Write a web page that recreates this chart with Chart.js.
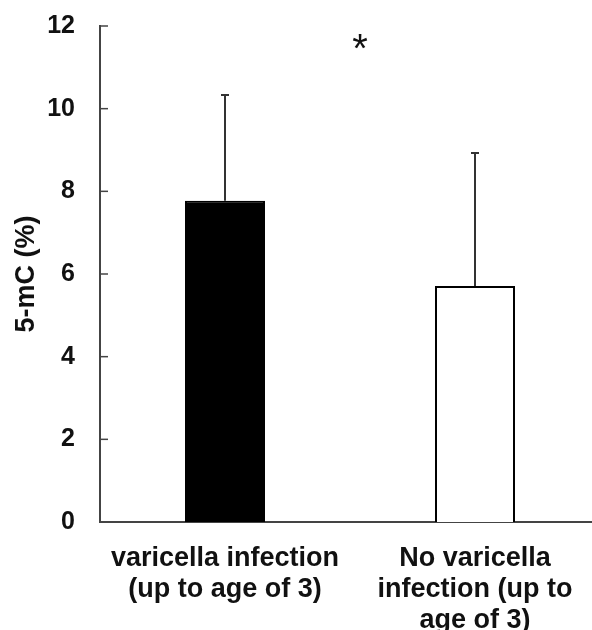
<!DOCTYPE html>
<html>
<head>
<meta charset="utf-8">
<script src="https://cdn.jsdelivr.net/npm/chart.js@4.4.1/dist/chart.umd.min.js"></script>
<style>
  html, body { margin: 0; padding: 0; background: #fff; overflow: hidden; }
  #wrap { width: 592px; height: 630px; overflow: hidden; }
</style>
</head>
<body>
<div id="wrap"><canvas id="myChart" width="600" height="640"></canvas></div>
<script>
const categorias = [
    ['varicella infection', '(up to age of 3)'],
    ['No varicella', 'infection (up to', 'age of 3)']
];
const medias = [7.77, 5.71];
const desvios = [2.56, 3.22];
const ticksY = [0, 2, 4, 6, 8, 10, 12];
const corBarras = ['#000000', '#ffffff'];

const fonte = 'Arial, "Liberation Sans", sans-serif';
const corEixo = '#444444';

// barras de erro (so para cima) e o asterisco
const extras = {
    id: 'extras',
    afterDatasetsDraw(chart) {
        const ctx = chart.ctx;
        const y = chart.scales.y;
        const x = chart.scales.x;
        const meta = chart.getDatasetMeta(0);
        ctx.save();
        ctx.strokeStyle = '#333333';
        ctx.lineWidth = 2;
        meta.data.forEach((barra, i) => {
            const topo = y.getPixelForValue(medias[i]);
            const fim = y.getPixelForValue(medias[i] + desvios[i]);
            ctx.beginPath();
            ctx.moveTo(barra.x, topo);
            ctx.lineTo(barra.x, fim);
            ctx.moveTo(barra.x - 4, fim);
            ctx.lineTo(barra.x + 4, fim);
            ctx.stroke();
        });

        // marcas do eixo y para dentro
        ctx.strokeStyle = corEixo;
        ctx.lineWidth = 1.5;
        ticksY.forEach(v => {
            const py = y.getPixelForValue(v);
            if (v === 0) return;
            ctx.beginPath();
            ctx.moveTo(chart.chartArea.left, py);
            ctx.lineTo(chart.chartArea.left + 8, py);
            ctx.stroke();
        });

        // asterisco de significancia
        ctx.fillStyle = '#111';
        ctx.font = '40px ' + fonte;
        ctx.textAlign = 'center';
        ctx.textBaseline = 'middle';
        const px = (x.getPixelForValue(0) + x.getPixelForValue(1)) / 2 + 10;
        ctx.fillText('*', px, y.getPixelForValue(11.4));
        ctx.restore();
    }
};

const ctx = document.getElementById('myChart');

new Chart(ctx, {
    type: 'bar',
    data: {
        labels: categorias,
        datasets: [{
            label: '5-mC',
            data: medias,
            backgroundColor: corBarras,
            borderColor: '#000000',
            borderWidth: 2,
            barPercentage: 0.32,
            categoryPercentage: 1.0
        }]
    },
    options: {
        responsive: false,
        animation: false,
        devicePixelRatio: 1,
        layout: { padding: { top: 26, right: 0, left: 0, bottom: 0 } },
        plugins: {
            legend: { display: false },
            tooltip: { enabled: false }
        },
        scales: {
            x: {
                grid: { display: false, drawTicks: false },
                border: { display: true, color: corEixo, width: 2 },
                ticks: {
                    color: '#111',
                    padding: 21,
                    maxRotation: 0,
                    autoSkip: false,
                    font: { family: fonte, size: 27, weight: 'bold', lineHeight: 1.15 }
                },
                afterFit(scale) {
                    scale.height = 118;
                    scale.paddingLeft = 0;
                    scale.paddingRight = 0;
                }
            },
            y: {
                min: 0,
                max: 12,
                afterBuildTicks(scale) { scale.ticks = ticksY.map(v => ({ value: v })); },
                grid: { display: false, drawTicks: false },
                border: { display: true, color: corEixo, width: 2 },
                ticks: {
                    color: '#111',
                    padding: 25,
                    font: { family: fonte, size: 25, weight: 'bold' }
                },
                title: {
                    display: true,
                    text: '5-mC (%)',
                    color: '#111',
                    padding: { top: 10, bottom: 0 },
                    font: { family: fonte, size: 27, weight: 'bold' }
                },
                afterFit(scale) {
                    scale.width = 100;
                    scale.paddingTop = 0;
                    scale.paddingBottom = 0;
                }
            }
        }
    },
    plugins: [extras]
});
</script>
</body>
</html>
